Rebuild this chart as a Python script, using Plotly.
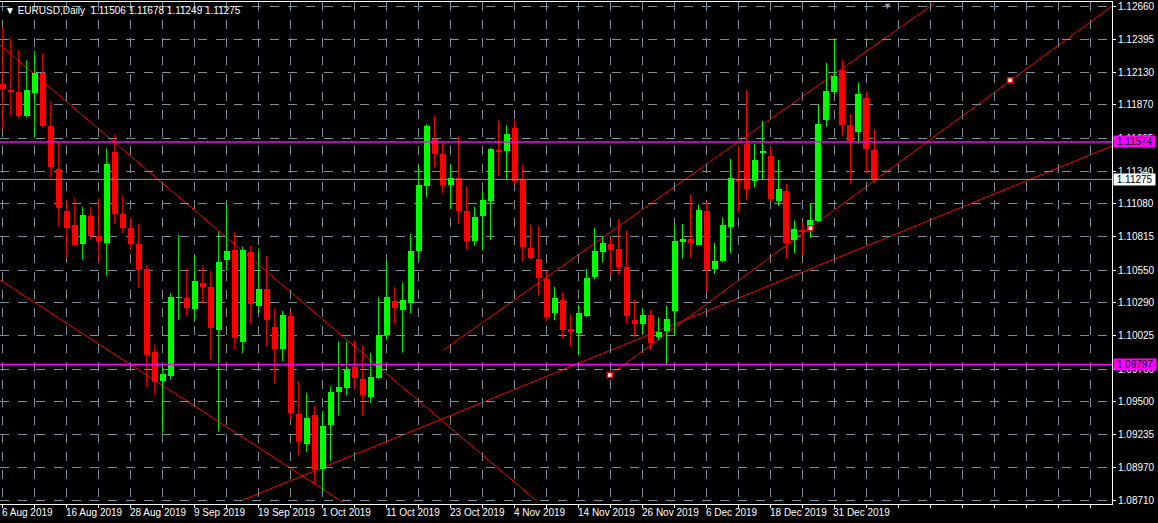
import plotly.graph_objects as go

# EURUSD daily bars, 6 Aug 2019 .. 7 Jan 2020 (bar index 0..109)
opens = [1.12041, 1.11987, 1.11974, 1.11781, 1.11966, 1.12126, 1.11699, 1.11362, 1.11026, 1.10914,
         1.10756, 1.10986, 1.10826, 1.10764, 1.11490, 1.10999, 1.10887, 1.10762, 1.10556, 1.09899,
         1.09664, 1.09702, 1.10329, 1.10324, 1.10238, 1.10444, 1.10412, 1.10070, 1.10631, 1.10713,
         1.09974, 1.10697, 1.10262, 1.10396, 1.10099, 1.09918, 1.10180, 1.09403, 1.09165, 1.09392,
         1.08959, 1.09312, 1.09573, 1.09605, 1.09779, 1.09683, 1.09536, 1.09686, 1.10030, 1.10305,
         1.10230, 1.10284, 1.10700, 1.11221, 1.11595, 1.11480, 1.11231, 1.11288, 1.11021, 1.10786,
         1.10983, 1.11101, 1.11512, 1.11501, 1.11683, 1.11272, 1.10727, 1.10639, 1.10479, 1.10206,
         1.10313, 1.10078, 1.10046, 1.10182, 1.10492, 1.10692, 1.10759, 1.10722, 1.10572, 1.10148,
         1.10118, 1.10193, 1.10019, 1.10065, 1.10225, 1.10772, 1.10802, 1.10754, 1.11026, 1.10559,
         1.10620, 1.10892, 1.11272, 1.11555, 1.11266, 1.11488, 1.11464, 1.11101, 1.11186, 1.10791,
         1.10866, 1.10871, 1.10946, 1.11752, 1.11974, 1.12147, 1.11707, 1.11653, 1.11923, 1.11506]
highs = [1.12494, 1.12409, 1.12313, 1.12227, 1.12302, 1.12281, 1.11899, 1.11573, 1.11111, 1.11130,
         1.11058, 1.11058, 1.11122, 1.11523, 1.11635, 1.11154, 1.10967, 1.10919, 1.10593, 1.09953,
         1.09779, 1.10369, 1.10834, 1.10564, 1.10666, 1.10585, 1.10545, 1.10860, 1.11074, 1.10852,
         1.10738, 1.10743, 1.10722, 1.10663, 1.10244, 1.10225, 1.10220, 1.09659, 1.09571, 1.09467,
         1.09424, 1.09624, 1.09979, 1.09979, 1.09998, 1.09947, 1.09891, 1.10332, 1.10620, 1.10417,
         1.10452, 1.10839, 1.11389, 1.11715, 1.11787, 1.11568, 1.11394, 1.11619, 1.11218, 1.11058,
         1.11181, 1.11525, 1.11747, 1.11707, 1.11747, 1.11394, 1.10914, 1.10903, 1.10545, 1.10417,
         1.10372, 1.10193, 1.10273, 1.10559, 1.10887, 1.10823, 1.10807, 1.10959, 1.10866, 1.10316,
         1.10244, 1.10233, 1.10171, 1.10265, 1.10906, 1.10919, 1.11154, 1.11074, 1.11093, 1.10767,
         1.10967, 1.11440, 1.11541, 1.11987, 1.11560, 1.11741, 1.11533, 1.11432, 1.11242, 1.10946,
         1.10932, 1.11079, 1.11872, 1.12206, 1.12388, 1.12233, 1.11795, 1.12049, 1.11971, 1.11678]
lows = [1.11667, 1.11779, 1.11760, 1.11768, 1.11608, 1.11685, 1.11293, 1.10898, 1.10644, 1.10746,
        1.10633, 1.10791, 1.10612, 1.10500, 1.10924, 1.10844, 1.10711, 1.10406, 1.09616, 1.09557,
        1.09245, 1.09672, 1.10150, 1.10182, 1.10137, 1.10286, 1.09838, 1.09256, 1.10545, 1.09918,
        1.09886, 1.10118, 1.10212, 1.09942, 1.09646, 1.09824, 1.09363, 1.09072, 1.09098, 1.08837,
        1.08778, 1.09023, 1.09389, 1.09549, 1.09597, 1.09389, 1.09491, 1.09683, 1.09990, 1.10113,
        1.09891, 1.10204, 1.10636, 1.11133, 1.11373, 1.11165, 1.11039, 1.10919, 1.10719, 1.10746,
        1.10706, 1.10791, 1.11301, 1.11272, 1.11234, 1.10620, 1.10631, 1.10345, 1.10145, 1.10150,
        1.10006, 1.09937, 1.09872, 1.10177, 1.10479, 1.10612, 1.10513, 1.10513, 1.10124, 1.10019,
        1.10038, 1.09910, 1.09990, 1.09798, 1.10025, 1.10644, 1.10652, 1.10754, 1.10377, 1.10519,
        1.10612, 1.10684, 1.11010, 1.11111, 1.11213, 1.11272, 1.11098, 1.11063, 1.10644, 1.10684,
        1.10673, 1.10807, 1.10935, 1.11699, 1.11955, 1.11621, 1.11240, 1.11560, 1.11325, 1.11249]
closes = [1.12000, 1.11974, 1.11781, 1.11987, 1.12121, 1.11699, 1.11373, 1.11045, 1.10884, 1.10754,
          1.10994, 1.10826, 1.10780, 1.11394, 1.10997, 1.10884, 1.10756, 1.10551, 1.09872, 1.09656,
          1.09723, 1.10332, 1.10334, 1.10246, 1.10460, 1.10415, 1.10086, 1.10617, 1.10706, 1.10006,
          1.10711, 1.10278, 1.10396, 1.10150, 1.09918, 1.10188, 1.09405, 1.09189, 1.09371, 1.08957,
          1.09306, 1.09579, 1.09619, 1.09755, 1.09686, 1.09549, 1.09696, 1.10035, 1.10332, 1.10246,
          1.10313, 1.10706, 1.11234, 1.11699, 1.11477, 1.11231, 1.11288, 1.11021, 1.10780, 1.10978,
          1.11111, 1.11515, 1.11501, 1.11640, 1.11263, 1.10732, 1.10647, 1.10487, 1.10177, 1.10324,
          1.10070, 1.10054, 1.10204, 1.10484, 1.10706, 1.10767, 1.10711, 1.10577, 1.10185, 1.10118,
          1.10193, 1.09971, 1.10057, 1.10158, 1.10780, 1.10802, 1.10764, 1.11031, 1.10551, 1.10625,
          1.10914, 1.11288, 1.11266, 1.11197, 1.11426, 1.11496, 1.11117, 1.11199, 1.10764, 1.10879,
          1.10860, 1.10951, 1.11720, 1.11982, 1.12099, 1.11707, 1.11573, 1.11960, 1.11517, 1.11275]

date_labels = ["6 Aug 2019", "16 Aug 2019", "28 Aug 2019", "9 Sep 2019", "19 Sep 2019", "1 Oct 2019",
               "11 Oct 2019", "23 Oct 2019", "4 Nov 2019", "14 Nov 2019", "26 Nov 2019", "6 Dec 2019",
               "18 Dec 2019", "31 Dec 2019"]
label_bars = [0, 8, 16, 24, 32, 40, 48, 56, 64, 72, 80, 88, 96, 104]
price_ticks = [1.12660, 1.12395, 1.12130, 1.11870, 1.11605, 1.11340, 1.11080, 1.10815, 1.10550,
               1.10290, 1.10025, 1.09760, 1.09500, 1.09235, 1.08970, 1.08710]

hlines = [1.11574, 1.09797]
last_price = 1.11275

# trend lines as (bar, price) pairs
trend_lines = [
    [(-0.34, 1.12348), (66.9, 1.08698)],
    [(-0.34, 1.10471), (42.5, 1.08698)],
    [(29.9, 1.08710), (138.7, 1.11542)],
    [(75.9, 1.09712), (138.7, 1.12660)],
    [(55.0, 1.09907), (116.5, 1.12682)],
]
anchor_bars = [75.9, 101.0, 125.95]
anchor_prices = [1.09712, 1.10884, 1.12067]

GREEN = "#00ff00"
RED = "#ff0000"
GRID = "#7f8c99"

n = len(opens)
idx = list(range(n))
up = [c >= o for o, c in zip(opens, closes)]
colors = [GREEN if u else RED for u in up]

fig = go.Figure()

for tl in trend_lines:
    (x0, y0), (x1, y1) = tl
    fig.add_shape(type="line", x0=x0, y0=y0, x1=x1, y1=y1, xref="x", yref="y",
                  line=dict(color=RED, width=1), layer="below")

for h in hlines:
    fig.add_shape(type="line", x0=0, x1=1, xref="paper", y0=h, y1=h, yref="y",
                  line=dict(color="#ff00ff", width=1.5))
fig.add_shape(type="line", x0=0, x1=1, xref="paper", y0=last_price, y1=last_price, yref="y",
              line=dict(color="#8e9aa6", width=1))

# wicks
for col in (GREEN, RED):
    wx, wy = [], []
    for i in idx:
        if colors[i] == col:
            wx += [i, i, None]
            wy += [lows[i], highs[i], None]
    fig.add_trace(go.Scatter(x=wx, y=wy, mode="lines", line=dict(color=col, width=1),
                             hoverinfo="skip", showlegend=False))

# bodies
base = [min(o, c) for o, c in zip(opens, closes)]
height = [max(abs(c - o), 0.00004) for o, c in zip(opens, closes)]
fig.add_trace(go.Bar(x=idx, y=height, base=base, width=0.75, marker=dict(color=colors, line_width=0),
                     showlegend=False))

fig.add_trace(go.Scatter(x=anchor_bars, y=anchor_prices, mode="markers",
                         marker=dict(symbol="square", size=5, color="white", line=dict(color=RED, width=1.5)),
                         showlegend=False))

ann = []
for b, t in zip(label_bars, date_labels):
    ann.append(dict(x=b, y=0, xref="x", yref="paper", yanchor="top", xanchor="left", xshift=-3, yshift=-1,
                    text=t, showarrow=False, font=dict(color="white", size=10)))
for h in hlines:
    ann.append(dict(x=1, y=h, xref="paper", yref="y", xanchor="left", yanchor="middle", xshift=1,
                    text=" %.5f " % h, showarrow=False, bgcolor="#ff00ff", font=dict(color="black", size=10),
                    borderpad=0))
ann.append(dict(x=1, y=last_price, xref="paper", yref="y", xanchor="left", yanchor="middle", xshift=1,
                text=" %.5f " % last_price, showarrow=False, bgcolor="white", font=dict(color="black", size=10),
                borderpad=0))
ann.append(dict(x=0, y=1, xref="paper", yref="paper", xanchor="left", yanchor="top", xshift=3, yshift=-1,
                text="▼ EURUSD,Daily  1.11506 1.11678 1.11249 1.11275", showarrow=False,
                font=dict(color="white", size=10)))
ann.append(dict(x=110.6, y=1, xref="x", yref="paper", yanchor="top", text="▼", showarrow=False,
                font=dict(color="#8e9aa6", size=9), yshift=3))

fig.update_layout(
    width=1158, height=523,
    margin=dict(l=0, r=46, t=2, b=19),
    paper_bgcolor="black", plot_bgcolor="black",
    font=dict(family="Liberation Sans, Arial", color="white", size=10),
    bargap=0, showlegend=False,
    annotations=ann,
    xaxis=dict(range=[-0.34, 138.7], tickvals=list(range(0, 139, 4)), ticktext=[""] * 35,
               showgrid=True, gridcolor=GRID, griddash="dash", gridwidth=1,
               ticks="outside", ticklen=3, tickcolor="white",
               showline=True, linecolor="white", mirror=True, zeroline=False),
    yaxis=dict(range=[1.08682, 1.12692], side="right", tickvals=price_ticks,
               ticktext=["%.5f" % p for p in price_ticks],
               showgrid=True, gridcolor=GRID, griddash="dash", gridwidth=1,
               ticks="outside", ticklen=3, tickcolor="white",
               showline=True, linecolor="white", mirror=True, zeroline=False,
               tickfont=dict(size=10)),
)

fig.write_html("out.html", config={"displayModeBar": False},
               post_script="document.body.style.margin='0px';document.body.style.overflow='hidden';")
